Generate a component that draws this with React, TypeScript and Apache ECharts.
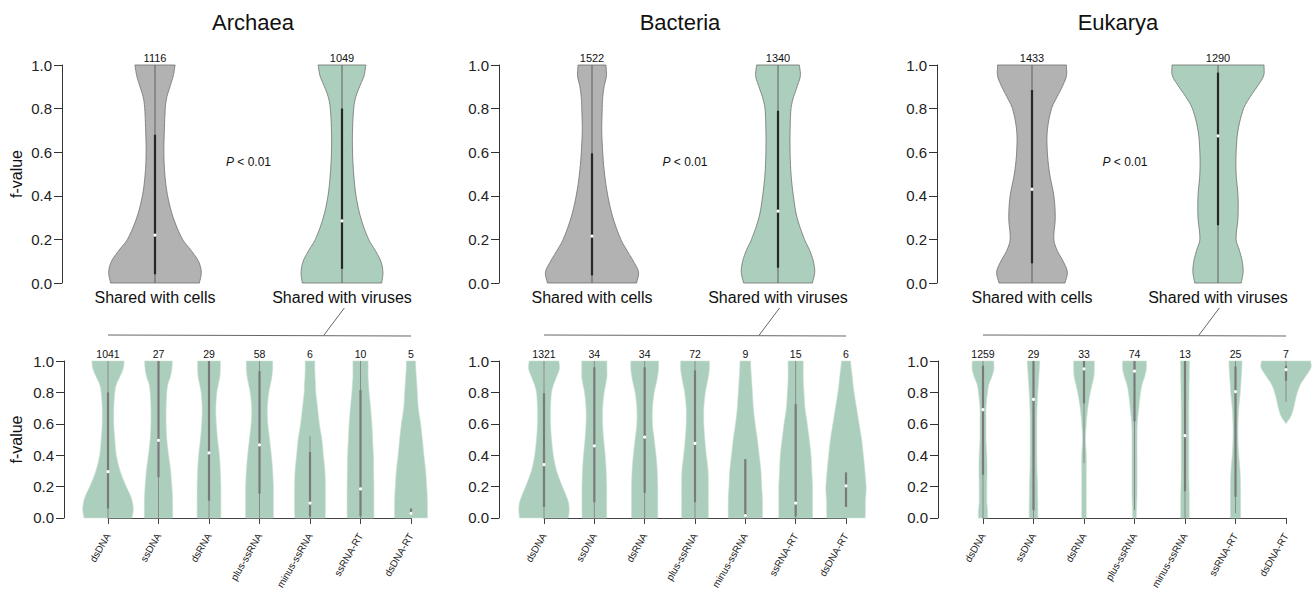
import React, { useEffect, useRef } from "react";
import * as echarts from "echarts";

// ---------------- DATA ----------------
const DOMAINS = ["Archaea", "Bacteria", "Eukarya"];
const TOP_CATS = ["Shared with cells", "Shared with viruses"];
const CATS = ["dsDNA", "ssDNA", "dsRNA", "plus-ssRNA", "minus-ssRNA", "ssRNA-RT", "dsDNA-RT"];
const Y_TICKS = [0, 0.2, 0.4, 0.6, 0.8, 1.0];

// f-value levels at which violin half-widths were read
const LEVELS = [0, 0.05, 0.1, 0.15, 0.2, 0.3, 0.4, 0.5, 0.6, 0.7, 0.8, 0.85, 0.9, 0.95, 1.0];

// top row: relative half-widths (cells, viruses)
const archaeaTopWidths = [
  [0.95, 0.99, 0.93, 0.77, 0.59, 0.39, 0.27, 0.21, 0.19, 0.2, 0.22, 0.25, 0.32, 0.39, 0.43],
  [0.85, 0.875, 0.83, 0.71, 0.57, 0.4, 0.3, 0.25, 0.225, 0.225, 0.25, 0.29, 0.375, 0.47, 0.51],
];
const bacteriaTopWidths = [
  [0.96, 1.0, 0.89, 0.75, 0.62, 0.45, 0.34, 0.27, 0.23, 0.21, 0.22, 0.23, 0.26, 0.31, 0.3],
  [0.74, 0.79, 0.76, 0.68, 0.57, 0.41, 0.33, 0.28, 0.26, 0.26, 0.28, 0.33, 0.41, 0.48, 0.46],
];
const eukaryaTopWidths = [
  [0.71, 0.76, 0.67, 0.54, 0.47, 0.5, 0.47, 0.38, 0.33, 0.33, 0.42, 0.53, 0.65, 0.74, 0.74],
  [0.5, 0.54, 0.52, 0.46, 0.39, 0.43, 0.43, 0.39, 0.39, 0.43, 0.55, 0.68, 0.84, 0.98, 0.99],
];
// box stats: [whisker low, q1, median, q3, whisker high]
const archaeaTopBox = [[0, 0.04, 0.22, 0.68, 1], [0, 0.065, 0.285, 0.8, 1]];
const bacteriaTopBox = [[0, 0.035, 0.215, 0.595, 1], [0, 0.07, 0.33, 0.79, 1]];
const eukaryaTopBox = [[0, 0.09, 0.43, 0.885, 1], [0, 0.265, 0.675, 0.965, 1]];
const archaeaTopCounts = [1116, 1049];
const bacteriaTopCounts = [1522, 1340];
const eukaryaTopCounts = [1433, 1290];

// bottom row
const archaeaBottomWidths = [
  [0.95, 1.0, 0.97, 0.87, 0.72, 0.48, 0.33, 0.27, 0.23, 0.23, 0.27, 0.33, 0.47, 0.6, 0.64],
  [0.56, 0.56, 0.56, 0.55, 0.53, 0.48, 0.4, 0.33, 0.3, 0.3, 0.33, 0.37, 0.47, 0.53, 0.55],
  [0.47, 0.47, 0.47, 0.47, 0.47, 0.45, 0.41, 0.34, 0.29, 0.27, 0.31, 0.37, 0.43, 0.45, 0.45],
  [0.55, 0.55, 0.55, 0.55, 0.55, 0.52, 0.47, 0.4, 0.33, 0.31, 0.37, 0.43, 0.49, 0.52, 0.52],
  [0.6, 0.61, 0.61, 0.61, 0.61, 0.59, 0.53, 0.47, 0.37, 0.3, 0.23, 0.22, 0.2, 0.19, 0.19],
  [0.53, 0.53, 0.53, 0.53, 0.53, 0.52, 0.51, 0.48, 0.45, 0.4, 0.34, 0.32, 0.3, 0.3, 0.3],
  [0.65, 0.65, 0.65, 0.64, 0.62, 0.58, 0.51, 0.45, 0.38, 0.29, 0.25, 0.23, 0.21, 0.19, 0.18],
];
const bacteriaBottomWidths = [
  [0.97, 1.0, 0.97, 0.86, 0.73, 0.5, 0.37, 0.3, 0.26, 0.26, 0.3, 0.38, 0.5, 0.61, 0.59],
  [0.49, 0.49, 0.49, 0.49, 0.49, 0.47, 0.43, 0.37, 0.33, 0.33, 0.39, 0.45, 0.5, 0.5, 0.5],
  [0.52, 0.52, 0.52, 0.52, 0.52, 0.5, 0.45, 0.38, 0.31, 0.31, 0.38, 0.45, 0.51, 0.55, 0.55],
  [0.53, 0.53, 0.53, 0.53, 0.53, 0.52, 0.45, 0.39, 0.35, 0.35, 0.41, 0.47, 0.53, 0.57, 0.57],
  [0.68, 0.68, 0.68, 0.67, 0.65, 0.62, 0.55, 0.48, 0.39, 0.32, 0.28, 0.26, 0.24, 0.22, 0.21],
  [0.67, 0.67, 0.67, 0.67, 0.67, 0.64, 0.61, 0.54, 0.46, 0.37, 0.33, 0.31, 0.3, 0.3, 0.3],
  [0.76, 0.77, 0.77, 0.79, 0.8, 0.75, 0.69, 0.62, 0.52, 0.42, 0.32, 0.28, 0.25, 0.21, 0.18],
];
const eukaryaBottomWidths = [
  [0.18, 0.18, 0.15, 0.15, 0.15, 0.16, 0.15, 0.12, 0.12, 0.12, 0.18, 0.23, 0.35, 0.43, 0.42],
  [0.17, 0.17, 0.17, 0.16, 0.16, 0.14, 0.13, 0.13, 0.13, 0.14, 0.17, 0.19, 0.21, 0.23, 0.25],
  [0.09, 0.09, 0.09, 0.09, 0.09, 0.09, 0.09, 0.06, 0.09, 0.15, 0.25, 0.32, 0.39, 0.41, 0.41],
  [0.07, 0.08, 0.09, 0.1, 0.1, 0.1, 0.1, 0.1, 0.11, 0.17, 0.24, 0.3, 0.4, 0.47, 0.47],
  [0.17, 0.17, 0.17, 0.17, 0.16, 0.15, 0.15, 0.15, 0.15, 0.15, 0.16, 0.16, 0.17, 0.17, 0.18],
  [0.2, 0.2, 0.2, 0.2, 0.2, 0.18, 0.13, 0.1, 0.1, 0.13, 0.19, 0.21, 0.23, 0.25, 0.26],
  null,
];
// Eukarya dsDNA-RT violin only spans 0.6 - 1.0
const eukaryaRtLevels = [0.6, 0.65, 0.7, 0.75, 0.8, 0.85, 0.9, 0.95, 0.97, 1.0];
const eukaryaRtWidths = [0, 0.2, 0.3, 0.37, 0.45, 0.57, 0.77, 0.97, 1.0, 0.97];

const archaeaBottomBox = [
  [0, 0.06, 0.295, 0.8, 1], [0, 0.26, 0.495, 1.0, 1], [0, 0.11, 0.415, 1.0, 1],
  [0, 0.155, 0.465, 0.935, 1], [0, 0.01, 0.095, 0.42, 0.52], [0, 0.01, 0.185, 0.815, 1],
  [0.02, 0.02, 0.03, 0.06, 0.06],
];
const bacteriaBottomBox = [
  [0, 0.07, 0.34, 0.795, 1], [0, 0.1, 0.46, 0.96, 1], [0, 0.16, 0.515, 0.96, 1],
  [0, 0.1, 0.475, 0.94, 1], [0, 0.005, 0.015, 0.375, 0.375], [0, 0.01, 0.095, 0.725, 1],
  [0.07, 0.07, 0.205, 0.29, 0.29],
];
const eukaryaBottomBox = [
  [0, 0.275, 0.69, 0.97, 1], [0, 0.05, 0.755, 1.0, 1], [0.35, 0.73, 0.95, 1.0, 1],
  [0.05, 0.615, 0.935, 1.0, 1], [0, 0.17, 0.525, 1.0, 1], [0.03, 0.135, 0.805, 0.965, 1],
  [0.74, 0.875, 0.945, 0.97, 1.0],
];
const archaeaBottomCounts = [1041, 27, 29, 58, 6, 10, 5];
const bacteriaBottomCounts = [1321, 34, 34, 72, 9, 15, 6];
const eukaryaBottomCounts = [1259, 29, 33, 74, 13, 25, 7];

const P_LABEL = "P < 0.01";
const P_LEVEL = 0.555;

// ---------------- STYLE / LAYOUT ----------------
const FONT = "'Liberation Sans', Arial, sans-serif";
const GRAY = "#b2b2b2";
const GREEN = "#accfbd";
const TOP_GRIDS = [
  { left: 155, width: 187, offset: 93, title: 253 },
  { left: 592, width: 186, offset: 93, title: 680 },
  { left: 1032, width: 186, offset: 95, title: 1118 },
];
const BOTTOM_GRIDS = [
  { left: 108, width: 303, offset: 44 },
  { left: 544, width: 302, offset: 45 },
  { left: 983, width: 303, offset: 45 },
];

type Violin = { lv: number[]; w: number[]; box: number[]; n: number; fill: string };

function buildTop(widths: number[][], box: number[][], counts: number[]): Violin[] {
  return widths.map((w, i) => ({ lv: LEVELS, w, box: box[i], n: counts[i], fill: i === 0 ? GRAY : GREEN }));
}
function buildBottom(widths: (number[] | null)[], box: number[][], counts: number[]): Violin[] {
  return widths.map((w, i) => ({
    lv: w ? LEVELS : eukaryaRtLevels,
    w: w ? w : eukaryaRtWidths,
    box: box[i],
    n: counts[i],
    fill: GREEN,
  }));
}

const TOP_VIOLINS = [
  buildTop(archaeaTopWidths, archaeaTopBox, archaeaTopCounts),
  buildTop(bacteriaTopWidths, bacteriaTopBox, bacteriaTopCounts),
  buildTop(eukaryaTopWidths, eukaryaTopBox, eukaryaTopCounts),
];
const BOTTOM_VIOLINS = [
  buildBottom(archaeaBottomWidths, archaeaBottomBox, archaeaBottomCounts),
  buildBottom(bacteriaBottomWidths, bacteriaBottomBox, bacteriaBottomCounts),
  buildBottom(eukaryaBottomWidths, eukaryaBottomBox, eukaryaBottomCounts),
];

// cubic Hermite smoothing of the width profile
function smoothProfile(ys: number[], ws: number[]): number[][] {
  const n = ys.length;
  const m = ws.map((_, k) => {
    if (k === 0) return (ws[1] - ws[0]) / (ys[1] - ys[0]);
    if (k === n - 1) return (ws[n - 1] - ws[n - 2]) / (ys[n - 1] - ys[n - 2]);
    return (ws[k + 1] - ws[k - 1]) / (ys[k + 1] - ys[k - 1]);
  });
  const out: number[][] = [];
  const steps = 8;
  for (let k = 0; k < n - 1; k++) {
    const h = ys[k + 1] - ys[k];
    for (let s = 0; s < steps; s++) {
      const t = s / steps;
      const t2 = t * t, t3 = t2 * t;
      const w =
        (2 * t3 - 3 * t2 + 1) * ws[k] + (t3 - 2 * t2 + t) * h * m[k] +
        (-2 * t3 + 3 * t2) * ws[k + 1] + (t3 - t2) * h * m[k + 1];
      out.push([ys[k] + t * h, Math.max(0, w)]);
    }
  }
  out.push([ys[n - 1], ws[n - 1]]);
  return out;
}

function makeRender(violins: Violin[], halfFrac: number, isTop: boolean) {
  return (params: any, api: any) => {
    const i = params.dataIndex;
    const v = violins[i];
    const cx = api.coord([i, 0])[0];
    const step = Math.abs(api.coord([1, 0])[0] - api.coord([0, 0])[0]);
    const maxHalf = step * halfFrac;
    const prof = smoothProfile(v.lv, v.w);
    const left = prof.map(([y, w]) => [cx - w * maxHalf, api.coord([i, y])[1]]);
    const right = prof.map(([y, w]) => [cx + w * maxHalf, api.coord([i, y])[1]]).reverse();
    const py = (y: number) => api.coord([i, y])[1];
    const [lo, q1, med, q3, hi] = v.box;
    const children: any[] = [
      {
        type: "polygon",
        shape: { points: left.concat(right) },
        style: isTop
          ? { fill: v.fill, stroke: "#6e6e6e", lineWidth: 0.8 }
          : { fill: v.fill, stroke: "#c9ded2", lineWidth: 0.6 },
      },
      {
        type: "line",
        shape: { x1: cx, y1: py(lo), x2: cx, y2: py(hi) },
        style: { stroke: isTop ? "#5e5e5e" : "#8a8a8a", lineWidth: 1 },
      },
      {
        type: "line",
        shape: { x1: cx, y1: py(q1), x2: cx, y2: py(q3) },
        style: { stroke: isTop ? "#262626" : "#7a7a7a", lineWidth: 2.2 },
      },
      { type: "circle", shape: { cx, cy: py(med), r: 1.6 }, style: { fill: "#ffffff" } },
      {
        type: "text",
        x: cx,
        y: py(1) - 2,
        style: {
          text: String(v.n),
          fill: "#111",
          fontSize: isTop ? 11 : 10.5,
          fontFamily: FONT,
          align: "center",
          verticalAlign: "bottom",
          textAlign: "center",
          textVerticalAlign: "bottom",
        },
      },
    ];
    if (isTop && i === 0) {
      const x1 = api.coord([1, 0])[0];
      children.push({
        type: "text",
        x: (cx + x1) / 2,
        y: py(P_LEVEL),
        style: {
          text: "{i|P} " + P_LABEL.slice(2),
          fill: "#111",
          fontSize: 12,
          fontFamily: FONT,
          align: "center",
          verticalAlign: "middle",
          textAlign: "center",
          textVerticalAlign: "middle",
          rich: { i: { fontStyle: "italic", fontSize: 12, fontFamily: FONT, fill: "#111" } },
        },
      });
    }
    if (!isTop && i === 0) {
      const xEnd = api.coord([violins.length - 1, 0])[0];
      const yb = py(1) - 26;
      children.push({
        type: "line",
        shape: { x1: cx, y1: yb, x2: xEnd, y2: yb + 1 },
        style: { stroke: "#666", lineWidth: 1 },
      });
      children.push({
        type: "line",
        shape: { x1: cx + 4.27 * step, y1: yb + 0.5, x2: cx + 4.68 * step, y2: yb - 27 },
        style: { stroke: "#666", lineWidth: 1 },
      });
    }
    return { type: "group", children };
  };
}

function yAxisDef(gridIndex: number, offset: number, named: boolean, gap: number) {
  return {
    gridIndex,
    type: "value",
    min: Y_TICKS[0],
    max: Y_TICKS[Y_TICKS.length - 1],
    interval: 0.2,
    offset,
    name: named ? "f-value" : "",
    nameLocation: "middle",
    nameGap: gap,
    nameTextStyle: { fontSize: 16, color: "#111", fontFamily: FONT },
    axisLine: { show: true, lineStyle: { color: "#333", width: 1 } },
    axisTick: { show: true, length: 8, lineStyle: { color: "#333" } },
    axisLabel: { fontSize: 15, color: "#222", margin: 10, fontFamily: FONT, formatter: (v: number) => v.toFixed(1) },
    splitLine: { show: false },
  };
}

export default function App() {
  const ref = useRef<HTMLDivElement>(null);
  useEffect(() => {
    document.body.style.margin = "0";
    if (!ref.current) return;
    const chart = echarts.init(ref.current, undefined, { renderer: "svg" });
    const grids: any[] = [];
    const xAxes: any[] = [];
    const yAxes: any[] = [];
    const series: any[] = [];
    TOP_GRIDS.forEach((g, d) => {
      grids.push({ left: g.left, width: g.width, top: 65, height: 218 });
      xAxes.push({
        gridIndex: d,
        type: "category",
        data: TOP_CATS,
        boundaryGap: false,
        axisLine: { show: false },
        axisTick: { show: false },
        axisLabel: { interval: 0, fontSize: 16, color: "#111", margin: 6, fontFamily: FONT },
        splitLine: { show: false },
      });
      yAxes.push(yAxisDef(d, g.offset, d === 0, 38));
      series.push({
        type: "custom",
        xAxisIndex: d,
        yAxisIndex: d,
        silent: true,
        clip: false,
        data: TOP_VIOLINS[d].map((v, i) => [i, v.box[2]]),
        renderItem: makeRender(TOP_VIOLINS[d], 0.25, true),
      });
    });
    BOTTOM_GRIDS.forEach((g, d) => {
      const gi = d + 3;
      grids.push({ left: g.left, width: g.width, top: 361, height: 159 });
      xAxes.push({
        gridIndex: gi,
        type: "category",
        data: CATS,
        boundaryGap: false,
        offset: 9,
        axisLine: { show: true, lineStyle: { color: "#444" } },
        axisTick: { show: true, length: 6, lineStyle: { color: "#444" } },
        axisLabel: { interval: 0, rotate: 60, fontSize: 10, color: "#222", margin: 7, fontFamily: FONT },
        splitLine: { show: false },
      });
      yAxes.push(yAxisDef(gi, g.offset, d === 0, 40));
      series.push({
        type: "custom",
        xAxisIndex: gi,
        yAxisIndex: gi,
        silent: true,
        clip: false,
        data: BOTTOM_VIOLINS[d].map((v, i) => [i, v.box[2]]),
        renderItem: makeRender(BOTTOM_VIOLINS[d], 0.5, false),
      });
    });
    chart.setOption({
      animation: false,
      textStyle: { fontFamily: FONT },
      grid: grids,
      xAxis: xAxes,
      yAxis: yAxes,
      series,
      graphic: TOP_GRIDS.map((g, d) => ({
        type: "text",
        x: g.title,
        y: 22,
        style: {
          text: DOMAINS[d],
          fill: "#111",
          fontSize: 22,
          fontFamily: FONT,
          align: "center",
          verticalAlign: "middle",
          textAlign: "center",
          textVerticalAlign: "middle",
        },
      })),
    });
    return () => chart.dispose();
  }, []);
  return <div ref={ref} style={{ width: 1315, height: 592 }} />;
}
